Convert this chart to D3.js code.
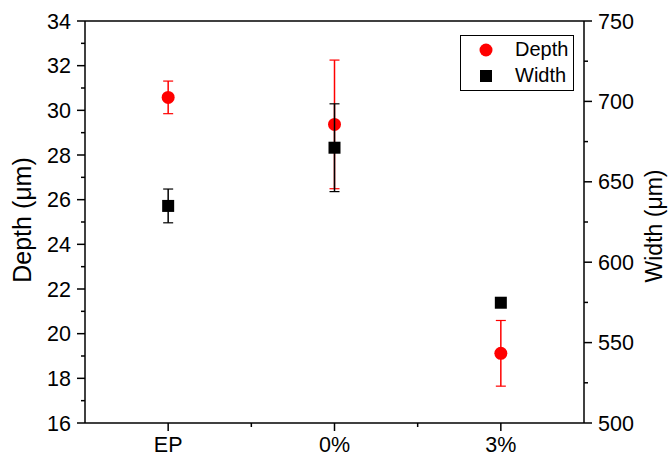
<!DOCTYPE html>
<html><head><meta charset="utf-8">
<script src="https://cdn.jsdelivr.net/npm/d3@7"></script>
<style>body{margin:0;background:#fff}svg{display:block}text{font-family:Arial,"Liberation Sans",sans-serif}</style>
</head><body>
<svg id="c" width="669" height="456"></svg>
<script>
const categories = ["EP", "0%", "3%"];
const depthMean = [30.58, 29.37, 19.12];
const depthErr = [0.73, 2.88, 1.47];
const widthMean = [635, 671.2, 574.8];
const widthErr = [10.5, 27.3, 1.5];
const depthTicks = [16, 18, 20, 22, 24, 26, 28, 30, 32, 34];
const widthTicks = [500, 550, 600, 650, 700, 750];

const svg = d3.select("#c");
const L = 85, R = 584, T = 21, B = 423;
const x = d3.scaleLinear().domain([-0.5, 2.5]).range([L, R]);
const yD = d3.scaleLinear().domain([16, 34]).range([B, T]);
const yW = d3.scaleLinear().domain([500, 750]).range([B, T]);
const fs = 21.5;

// frame top
svg.append("line").attr("x1", L).attr("x2", R).attr("y1", T).attr("y2", T).attr("stroke", "#000").attr("stroke-width", 1.5);

// left axis
const gL = svg.append("g").attr("transform", `translate(${L},0)`);
gL.append("line").attr("y1", T).attr("y2", B).attr("stroke", "#000").attr("stroke-width", 1.5);
const minorD = d3.range(17, 34, 2);
gL.selectAll(".mj").data(depthTicks).join("line").attr("class","mj").attr("x1", -8).attr("x2", 0).attr("y1", d => yD(d)).attr("y2", d => yD(d)).attr("stroke", "#000").attr("stroke-width", 1.5);
gL.selectAll(".mn").data(minorD).join("line").attr("class","mn").attr("x1", -4).attr("x2", 0).attr("y1", d => yD(d)).attr("y2", d => yD(d)).attr("stroke", "#000").attr("stroke-width", 1.5);
gL.selectAll(".tl").data(depthTicks).join("text").attr("class","tl").attr("x", -14).attr("y", d => yD(d)).attr("dy", "0.35em").attr("text-anchor", "end").attr("font-size", fs).text(d => d);

// right axis
const gR = svg.append("g").attr("transform", `translate(${R},0)`);
gR.append("line").attr("y1", T).attr("y2", B).attr("stroke", "#000").attr("stroke-width", 1.5);
const minorW = d3.range(525, 750, 50);
gR.selectAll(".mj").data(widthTicks).join("line").attr("class","mj").attr("x1", 0).attr("x2", 8).attr("y1", d => yW(d)).attr("y2", d => yW(d)).attr("stroke", "#000").attr("stroke-width", 1.5);
gR.selectAll(".mn").data(minorW).join("line").attr("class","mn").attr("x1", 0).attr("x2", 4).attr("y1", d => yW(d)).attr("y2", d => yW(d)).attr("stroke", "#000").attr("stroke-width", 1.5);
gR.selectAll(".tl").data(widthTicks).join("text").attr("class","tl").attr("x", 14).attr("y", d => yW(d)).attr("dy", "0.35em").attr("text-anchor", "start").attr("font-size", fs).text(d => d);

// bottom axis
const gB = svg.append("g").attr("transform", `translate(0,${B})`);
gB.append("line").attr("x1", L).attr("x2", R).attr("stroke", "#000").attr("stroke-width", 1.5);
gB.selectAll(".mj").data(categories).join("line").attr("class","mj").attr("x1", (d,i) => x(i)).attr("x2", (d,i) => x(i)).attr("y1", 0).attr("y2", 8).attr("stroke", "#000").attr("stroke-width", 1.5);
gB.selectAll(".mn").data([0.5, 1.5]).join("line").attr("class","mn").attr("x1", d => x(d)).attr("x2", d => x(d)).attr("y1", 0).attr("y2", 4).attr("stroke", "#000").attr("stroke-width", 1.5);
gB.selectAll(".tl").data(categories).join("text").attr("class","tl").attr("x", (d,i) => x(i)).attr("y", 29).attr("text-anchor", "middle").attr("font-size", fs).text(d => d);

// titles
svg.append("text").attr("transform", `translate(31,220) rotate(-90)`).attr("text-anchor", "middle").attr("font-size", 25).text("Depth (μm)");
svg.append("text").attr("transform", `translate(662,226) rotate(-90)`).attr("text-anchor", "middle").attr("font-size", 23).text("Width (μm)");

// error bars + markers
function errBars(mean, err, y, color) {
  const g = svg.append("g");
  mean.forEach((m, i) => {
    const cx = x(i);
    g.append("line").attr("x1", cx).attr("x2", cx).attr("y1", y(m - err[i])).attr("y2", y(m + err[i])).attr("stroke", color).attr("stroke-width", 1.5);
    [m - err[i], m + err[i]].forEach(v => g.append("line").attr("x1", cx - 5).attr("x2", cx + 5).attr("y1", y(v)).attr("y2", y(v)).attr("stroke", color).attr("stroke-width", 1.2));
  });
}
errBars(depthMean, depthErr, yD, "#ff0000");
svg.append("g").selectAll("circle").data(depthMean).join("circle").attr("cx", (d,i) => x(i)).attr("cy", d => yD(d)).attr("r", 6.5).attr("fill", "#ff0000");
errBars(widthMean, widthErr, yW, "#000");
svg.append("g").selectAll("rect").data(widthMean).join("rect").attr("x", (d,i) => x(i) - 6).attr("y", d => yW(d) - 6).attr("width", 12).attr("height", 12).attr("fill", "#000");

// legend
const lg = svg.append("g");
lg.append("rect").attr("x", 460.5).attr("y", 35.5).attr("width", 113).attr("height", 55).attr("fill", "#fff").attr("stroke", "#000").attr("stroke-width", 1);
lg.append("circle").attr("cx", 486).attr("cy", 50).attr("r", 6.5).attr("fill", "#ff0000");
lg.append("rect").attr("x", 480).attr("y", 70).attr("width", 12).attr("height", 12).attr("fill", "#000");
lg.append("text").attr("x", 515).attr("y", 49).attr("dy", "0.35em").attr("font-size", 20).text("Depth");
lg.append("text").attr("x", 515).attr("y", 75).attr("dy", "0.35em").attr("font-size", 20).text("Width");
</script>
</body></html>
